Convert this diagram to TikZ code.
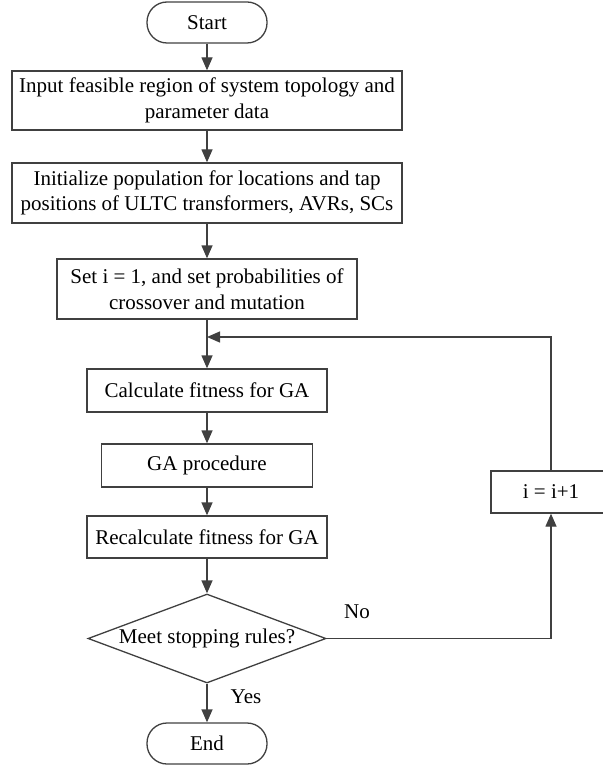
\documentclass[tikz,border=0pt]{standalone}
\usepackage{fontspec}
\setmainfont{Liberation Serif}
\usetikzlibrary{arrows.meta,shapes.geometric}
\definecolor{ln}{HTML}{404040}
\begin{document}
\begin{tikzpicture}[x=1pt,y=-1pt,
  every node/.style={font=\fontsize{21}{25.5}\selectfont, inner sep=0pt, align=center},
  proc/.style={draw=ln, line width=1.3pt, rectangle, minimum height=60pt},
  term/.style={draw=ln, line width=1.3pt, rectangle, rounded corners=20pt, minimum width=120pt, minimum height=41pt},
  decis/.style={draw=ln, line width=1.3pt, diamond, aspect=2.67, minimum width=238pt, minimum height=89pt},
  conn/.style={draw=ln, line width=1.3pt, -{Triangle[length=13pt,width=11pt]}},
  plain/.style={draw=ln, line width=1.3pt}]
\useasboundingbox (0,0) rectangle (602,767);
\node[term] (start) at (207,22.5) {Start};
\node[proc, minimum width=390pt, minimum height=59pt] (input) at (207,100.5) {Input feasible region of system topology and\\parameter data};
\node[proc, minimum width=390pt] (init) at (207,193) {Initialize population for locations and tap\\positions of ULTC transformers, AVRs, SCs};
\node[proc, minimum width=300pt] (set) at (207,289) {Set i = 1, and set probabilities of\\crossover and mutation};
\node[proc, minimum width=240pt, minimum height=43pt] (calc) at (207,390.5) {Calculate fitness for GA};
\node[proc, minimum width=211pt, minimum height=43pt] (ga) at (207,465.5) {GA procedure};
\node[proc, minimum width=240pt, minimum height=42pt] (recalc) at (207,537) {Recalculate fitness for GA};
\node[decis] (dec) at (207,638.5) {Meet stopping rules?};
\node[term] (end) at (207,743.5) {End};
\node[proc, minimum width=120pt, minimum height=42pt] (inc) at (551,492) {i = i+1};
\coordinate (join) at (207,337);
\node (no) at (357,612) {No};
\node (yes) at (246,697) {Yes};
\draw[conn] (start) -- (input);
\draw[conn] (input) -- (init);
\draw[conn] (init) -- (set);
\draw[conn] (set) -- (calc);
\draw[conn] (calc) -- (ga);
\draw[conn] (ga) -- (recalc);
\draw[conn] (recalc) -- (dec);
\draw[conn] (dec) -- (end);
\draw[conn] (dec.east) -| (inc.south);
\draw[conn] (inc.north) |- (join);
\end{tikzpicture}
\end{document}
